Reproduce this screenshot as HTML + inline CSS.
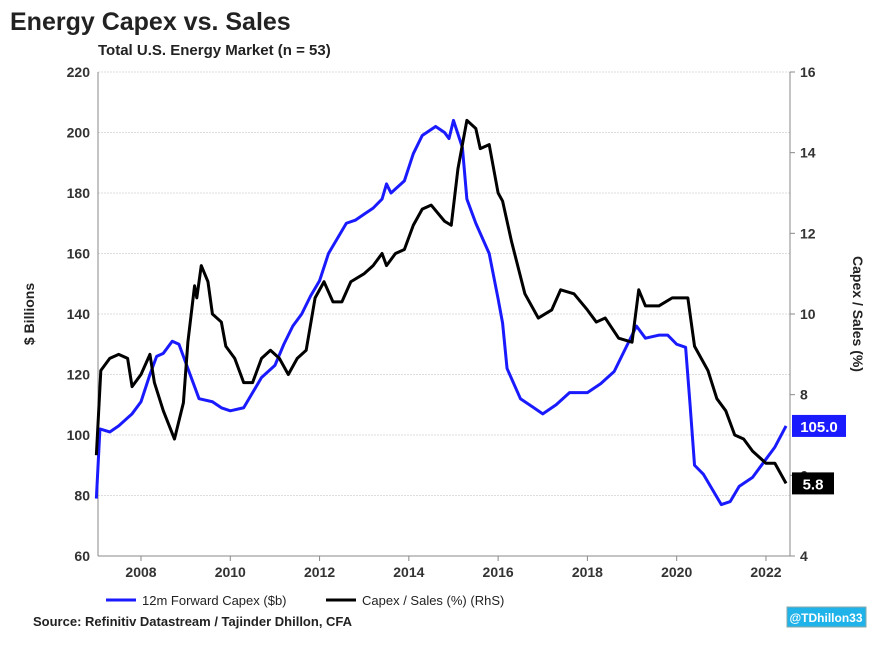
<!DOCTYPE html>
<html><head><meta charset="utf-8"><style>
body{margin:0;background:#fff;width:881px;height:641px;overflow:hidden;font-family:"Liberation Sans",sans-serif}
</style></head><body>
<svg width="881" height="641" xmlns="http://www.w3.org/2000/svg">
<text x="10" y="30" font-size="25" font-weight="bold" fill="#222">Energy Capex vs. Sales</text>
<text x="98" y="55" font-size="15" font-weight="bold" fill="#222">Total U.S. Energy Market (n = 53)</text>
<g id="grid"></g>
<g id="axes"></g>
<g id="series"></g>
<text transform="translate(34,314) rotate(-90)" text-anchor="middle" font-size="14" font-weight="bold" fill="#222">$ Billions</text>
<text transform="translate(853,314) rotate(90)" text-anchor="middle" font-size="14" font-weight="bold" fill="#222">Capex / Sales (%)</text>
<g>
<line x1="106" y1="600" x2="136" y2="600" stroke="#1a1aff" stroke-width="3"/>
<text x="142" y="605" font-size="13" fill="#222">12m Forward Capex ($b)</text>
<line x1="326" y1="600" x2="356" y2="600" stroke="#000" stroke-width="3"/>
<text x="362" y="605" font-size="13" fill="#222">Capex / Sales (%) (RhS)</text>
</g>
<text x="33" y="626" font-size="13" font-weight="bold" fill="#222">Source: Refinitiv Datastream / Tajinder Dhillon, CFA</text>
<rect x="787" y="607" width="79" height="20" fill="#1fb3ea" stroke="#8aa"/>
<text x="826" y="622" text-anchor="middle" font-size="12" font-weight="bold" fill="#fff">@TDhillon33</text>
</svg>
<script>
const capexDates=[2007.0,2007.08,2007.3,2007.5,2007.8,2008.0,2008.2,2008.35,2008.5,2008.7,2008.85,2009.1,2009.3,2009.6,2009.8,2010.0,2010.3,2010.5,2010.7,2011.0,2011.2,2011.4,2011.6,2011.8,2012.0,2012.2,2012.4,2012.6,2012.8,2013.0,2013.2,2013.4,2013.5,2013.6,2013.9,2014.1,2014.3,2014.6,2014.8,2014.9,2015.0,2015.2,2015.3,2015.5,2015.8,2016.0,2016.1,2016.2,2016.5,2016.8,2017.0,2017.3,2017.6,2018.0,2018.3,2018.6,2018.9,2019.1,2019.3,2019.6,2019.8,2020.0,2020.2,2020.3,2020.4,2020.6,2020.8,2021.0,2021.2,2021.4,2021.7,2022.0,2022.2,2022.45];
const capexValues=[79,102,101,103,107,111,120,126,127,131,130,120,112,111,109,108,109,114,119,123,130,136,140,146,151,160,165,170,171,173,175,178,183,180,184,193,199,202,200,198,204,195,178,170,160,145,137,122,112,109,107,110,114,114,117,121,130,136,132,133,133,130,129,110,90,87,82,77,78,83,86,92,96,103];
const ratioDates=[2007.0,2007.1,2007.3,2007.5,2007.7,2007.8,2008.0,2008.2,2008.3,2008.5,2008.75,2008.95,2009.05,2009.2,2009.25,2009.35,2009.5,2009.6,2009.8,2009.9,2010.1,2010.3,2010.5,2010.7,2010.9,2011.1,2011.3,2011.5,2011.7,2011.9,2012.1,2012.3,2012.5,2012.7,2013.0,2013.2,2013.4,2013.5,2013.7,2013.9,2014.1,2014.3,2014.5,2014.8,2014.95,2015.1,2015.3,2015.5,2015.6,2015.8,2016.0,2016.1,2016.3,2016.6,2016.9,2017.2,2017.4,2017.7,2018.0,2018.2,2018.4,2018.7,2019.0,2019.15,2019.3,2019.6,2019.9,2020.25,2020.4,2020.7,2020.9,2021.1,2021.3,2021.5,2021.7,2022.0,2022.2,2022.45];
const ratioValues=[6.5,8.6,8.9,9.0,8.9,8.2,8.5,9.0,8.3,7.6,6.9,7.8,9.3,10.7,10.4,11.2,10.8,10.0,9.8,9.2,8.9,8.3,8.3,8.9,9.1,8.9,8.5,8.9,9.1,10.4,10.8,10.3,10.3,10.8,11.0,11.2,11.5,11.2,11.5,11.6,12.2,12.6,12.7,12.3,12.2,13.6,14.8,14.6,14.1,14.2,13.0,12.8,11.8,10.5,9.9,10.1,10.6,10.5,10.1,9.8,9.9,9.4,9.3,10.6,10.2,10.2,10.4,10.4,9.2,8.6,7.9,7.6,7.0,6.9,6.6,6.3,6.3,5.8];
const leftTicks=[60,80,100,120,140,160,180,200,220];
const rightTicks=[4,6,8,10,12,14,16];
const xTicks=[2008,2010,2012,2014,2016,2018,2020,2022];
const capexLast="105.0", ratioLast="5.8";

const L=98,R=790,T=72,B=556;
const xs=y=>141+(y-2008)*44.64;
const yl=v=>B-(v-60)/160*(B-T);
const yr=v=>B-(v-4)/12*(B-T);
const NS="http://www.w3.org/2000/svg";
function mk(tag,attrs,parent,txt){const e=document.createElementNS(NS,tag);for(const k in attrs)e.setAttribute(k,attrs[k]);if(txt!==undefined)e.textContent=txt;parent.appendChild(e);return e;}
const grid=document.getElementById('grid'),axes=document.getElementById('axes'),ser=document.getElementById('series');
leftTicks.forEach(t=>{
  const g=mk('line',{x1:L,x2:R,y1:yl(t),y2:yl(t),stroke:'#ddd','stroke-dasharray':'2,1'},grid);
  
  
  const tx=mk('text',{x:L-8,y:yl(t)+5,'text-anchor':'end','font-size':14,'font-weight':'bold',fill:'#333'},axes,t);
  
  
});
rightTicks.forEach(t=>{
  mk('line',{x1:R,x2:R+5,y1:yr(t),y2:yr(t),stroke:'#888'},axes);
  const tx=mk('text',{x:R+10,y:yr(t)+5,'font-size':14,'font-weight':'bold',fill:'#333'},axes,t);
  
  
});
xTicks.forEach(t=>{
  mk('line',{x1:xs(t),x2:xs(t),y1:B,y2:B+5,stroke:'#888'},axes);
  const tx=mk('text',{x:xs(t),y:B+21,'text-anchor':'middle','font-size':14,'font-weight':'bold',fill:'#333'},axes,t);
  
  
});
mk('line',{x1:L,x2:L,y1:T,y2:B,stroke:'#888'},axes);
mk('line',{x1:R,x2:R,y1:T,y2:B,stroke:'#888'},axes);
mk('line',{x1:L,x2:R,y1:B,y2:B,stroke:'#888'},axes);
const p1=mk('polyline',{points:capexDates.map((d,i)=>xs(d)+','+yl(capexValues[i])).join(' '),fill:'none',stroke:'#1a1aff','stroke-width':3,'stroke-linejoin':'round'},ser);


const p2=mk('polyline',{points:ratioDates.map((d,i)=>xs(d)+','+yr(ratioValues[i])).join(' '),fill:'none',stroke:'#000','stroke-width':3,'stroke-linejoin':'round'},ser);


const cy=yl(capexValues[capexValues.length-1]);
const b1=mk('rect',{x:792,y:cy-11,width:54,height:22,fill:'#1a1aff'},ser);


const t1=mk('text',{x:819,y:cy+6,'text-anchor':'middle','font-size':15,'font-weight':'bold',fill:'#fff'},ser,capexLast);


const ry=yr(ratioValues[ratioValues.length-1]);
const b2=mk('rect',{x:792,y:ry-11,width:42,height:22,fill:'#000'},ser);


const t2=mk('text',{x:813,y:ry+6,'text-anchor':'middle','font-size':15,'font-weight':'bold',fill:'#fff'},ser,ratioLast);


</script>
</body></html>
